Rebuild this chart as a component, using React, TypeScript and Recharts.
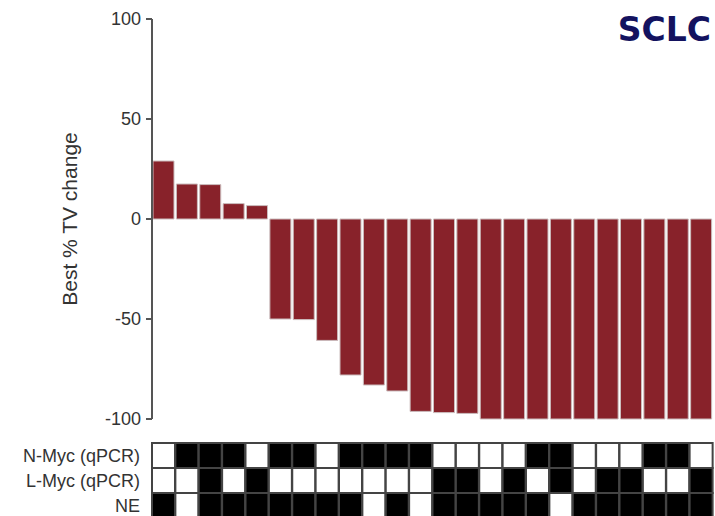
import { Bar, BarChart, Cell, XAxis, YAxis } from "recharts";

const patients = [
  "P01", "P02", "P03", "P04", "P05", "P06", "P07", "P08",
  "P09", "P10", "P11", "P12", "P13", "P14", "P15", "P16",
  "P17", "P18", "P19", "P20", "P21", "P22", "P23", "P24",
];

const tvChange = [
  29, 17.5, 17.2, 7.7, 6.7, -50, -50.3, -60.7,
  -78, -83, -86, -96.2, -96.8, -97.2, -100, -100,
  -100, -100, -100, -100, -100, -100, -100, -100,
];

// 1 = positive (black), 0 = negative (white)
const nMyc = [0, 1, 1, 1, 0, 1, 1, 0, 1, 1, 1, 1, 0, 0, 0, 0, 1, 1, 0, 0, 0, 1, 1, 0];
const lMyc = [0, 0, 1, 0, 1, 0, 0, 0, 0, 0, 0, 0, 1, 1, 0, 1, 0, 1, 0, 1, 1, 0, 0, 1];
const ne = [1, 0, 1, 1, 1, 1, 1, 1, 1, 0, 1, 0, 1, 1, 1, 1, 1, 0, 1, 1, 1, 1, 1, 1];

const rowLabels = ["NE", "L-Myc (qPCR)", "N-Myc (qPCR)"];
const yTicks = [-100, -50, 0, 50, 100];

const barData = patients.map((id, i) => ({ id, tv: tvChange[i] }));
const heatData = patients.map((id, i) => ({ id, ne: 1, l: 1, n: 1, neV: ne[i], lV: lMyc[i], nV: nMyc[i] }));

const FONT = "'Liberation Sans', 'DejaVu Sans', sans-serif";
const AXIS = "#555";
const TEXT = "#333";
const CELL_BORDER = "#444";

const cellFill = (v: number) => (v ? "#000" : "#fff");

export default function App() {
  return (
    <div style={{ position: "absolute", left: 0, top: 0, width: 715, height: 516, background: "#fff", fontFamily: FONT, overflow: "hidden" }}>
      <div style={{ position: "absolute", left: 0, top: 0 }}>
        <BarChart width={715} height={432} data={barData} margin={{ top: 19, right: 2, bottom: 13, left: 0 }} barCategoryGap={1}>
          <XAxis dataKey="id" hide />
          <YAxis
            width={152}
            domain={[-100, 100]}
            ticks={yTicks}
            interval={0}
            tick={{ fill: TEXT, fontSize: 18 }}
            tickSize={6}
            tickMargin={5}
            axisLine={{ stroke: AXIS, strokeWidth: 2 }}
            tickLine={{ stroke: AXIS, strokeWidth: 2 }}
            label={{ value: "Best % TV change", angle: -90, position: "center", dx: -6, fill: TEXT, fontSize: 21 }}
          />
          <Bar dataKey="tv" fill="#88222a" stroke="#cbbcbd" strokeWidth={1} isAnimationActive={false} />
        </BarChart>
      </div>

      <div style={{ position: "absolute", right: 4, top: 10, color: "#13125f", fontFamily: "'DejaVu Sans', sans-serif", fontWeight: 700, fontSize: 33 }}>
        SCLC
      </div>

      <div style={{ position: "absolute", left: 0, top: 442 }}>
        <BarChart width={715} height={76} data={heatData} margin={{ top: 1, right: 2, bottom: 0, left: 0 }} barCategoryGap={0}>
          <XAxis dataKey="id" hide />
          <YAxis
            type="number"
            width={152}
            domain={[0, 3]}
            ticks={[0.5, 1.5, 2.5]}
            interval={0}
            tickFormatter={(v: number) => rowLabels[Math.floor(v)]}
            tick={{ fill: TEXT, fontSize: 18 }}
            tickMargin={6}
            axisLine={false}
            tickLine={false}
          />
          <Bar dataKey="ne" stackId="m" stroke={CELL_BORDER} strokeWidth={2} isAnimationActive={false}>
            {heatData.map((d) => (
              <Cell key={d.id} fill={cellFill(d.neV)} />
            ))}
          </Bar>
          <Bar dataKey="l" stackId="m" stroke={CELL_BORDER} strokeWidth={2} isAnimationActive={false}>
            {heatData.map((d) => (
              <Cell key={d.id} fill={cellFill(d.lV)} />
            ))}
          </Bar>
          <Bar dataKey="n" stackId="m" stroke={CELL_BORDER} strokeWidth={2} isAnimationActive={false}>
            {heatData.map((d) => (
              <Cell key={d.id} fill={cellFill(d.nV)} />
            ))}
          </Bar>
        </BarChart>
      </div>
    </div>
  );
}
